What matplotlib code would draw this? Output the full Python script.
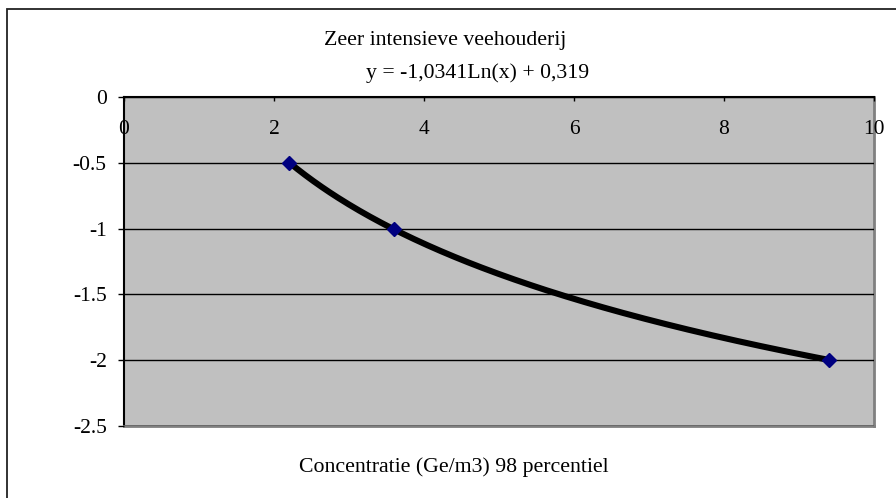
import numpy as np
import matplotlib
matplotlib.use("Agg")
import matplotlib.pyplot as plt
from matplotlib.patches import Rectangle

# Data
conc = [2.2, 3.6, 9.4]
value = [-0.5, -1.0, -2.0]
x_ticks = [0, 2, 4, 6, 8, 10]
y_ticks = [0, -0.5, -1, -1.5, -2, -2.5]
title = "Zeer intensieve veehouderij"
equation = "y = -1,0341Ln(x) + 0,319"
xlabel = "Concentratie (Ge/m3) 98 percentiel"

plt.rcParams['font.family'] = ['Liberation Serif', 'DejaVu Serif']

fig = plt.figure(figsize=(8.96, 4.98), dpi=100)
ax = fig.add_axes([124/896, 72/498, 750/896, 329/498])
ax.set_facecolor('#C0C0C0')

# logarithmic trendline (least squares on ln x, as Excel does)
slope, intercept = np.polyfit(np.log(conc), value, 1)
xt = np.linspace(min(conc), max(conc), 200)
ax.plot(xt, slope*np.log(xt) + intercept, color='black', lw=4.4, solid_capstyle='butt', zorder=3)
ax.plot(conc, value, linestyle='none', marker='D', ms=7.5, color='#000080', mec='#000080', zorder=4)

ax.set_xlim(0, 10)
ax.set_ylim(-2.5, 0)
ax.set_xticks(x_ticks)
ax.set_xticklabels([str(t) for t in x_ticks])
ax.set_yticks(y_ticks)
ax.set_yticklabels([f"{t:g}" for t in y_ticks])

ax.yaxis.grid(True, color='black', lw=1.0)
ax.set_axisbelow(False)
for gl in ax.get_ygridlines():
    gl.set_zorder(1)

ax.tick_params(axis='x', top=True, bottom=False, labeltop=True, labelbottom=False,
               direction='in', length=3, width=1, pad=-30, labelsize=15.5)
ax.tick_params(axis='y', direction='out', length=4.5, width=1, pad=8, labelsize=15.5)

ax.spines['top'].set_color('black')
ax.spines['top'].set_linewidth(1.5)
ax.spines['left'].set_color('black')
ax.spines['left'].set_linewidth(1.5)
ax.spines['right'].set_color('#808080')
ax.spines['right'].set_linewidth(2)
ax.spines['bottom'].set_color('#808080')
ax.spines['bottom'].set_linewidth(2)

fig.text(445/896, 1-40/498, title, ha='center', va='center', fontsize=15.7)
fig.text(478/896, 1-73/498, equation, ha='center', va='center', fontsize=15.7)
fig.text(454/896, 1-467/498, xlabel, ha='center', va='center', fontsize=15.7)

fig.add_artist(Rectangle((7/896, -0.2), 1.5, 0.2 + 1-9/498, transform=fig.transFigure,
                         fill=False, ec='#222222', lw=1.3))

fig.savefig("out.png", dpi=100)
